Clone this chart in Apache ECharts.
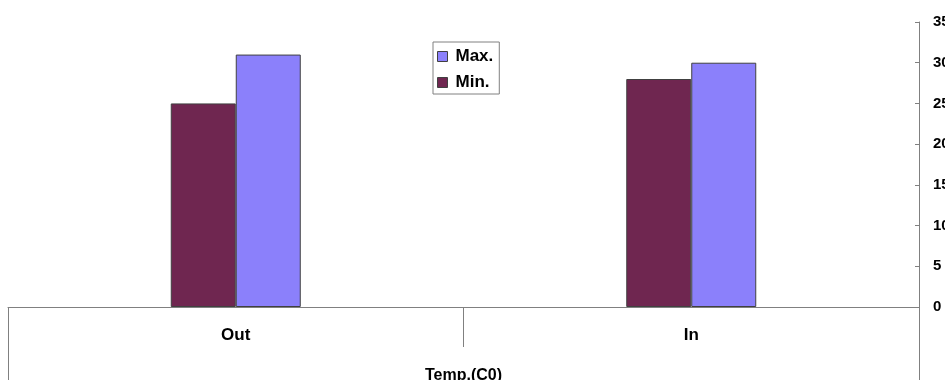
<!DOCTYPE html>
<html><head><meta charset="utf-8">
<script src="https://cdn.jsdelivr.net/npm/echarts@6/dist/echarts.min.js"></script>
<style>html,body{margin:0;padding:0;background:#fff}#c{width:945px;height:380px}</style>
</head><body><div id="c"></div>
<script>
const categories = ['Out', 'In'];
const outerCategory = ['Temp.(C0)'];
const minValues = [25, 28];
const maxValues = [31, 30];
const yTicks = { min: 0, max: 35, interval: 5 };

const font = 'Liberation Sans, Arial, sans-serif';
const chart = echarts.init(document.getElementById('c'));
chart.setOption({
  animation: false,
  grid: { left: 8, right: 26, top: 22, bottom: 73, containLabel: false, outerBoundsMode: 'none' },
  legend: {
    orient: 'vertical', left: 433, top: 42,
    data: ['Max.', 'Min.'],
    padding: [6, 6, 3, 4],
    itemWidth: 10, itemHeight: 10, itemGap: 9,
    borderColor: '#808080', borderWidth: 1,
    icon: 'rect',
    itemStyle: { borderColor: '#404040', borderWidth: 1 },
    textStyle: { fontFamily: font, fontWeight: 'bold', fontSize: 17, color: '#000', padding: [0, 0, 0, 3] }
  },
  xAxis: [
    {
      type: 'category', data: categories, position: 'bottom',
      axisLine: { show: true, lineStyle: { color: '#808080', width: 1 } },
      axisTick: { show: true, length: 40, lineStyle: { color: '#808080' } },
      axisLabel: { margin: 20, fontFamily: font, fontWeight: 'bold', fontSize: 17, color: '#000' }
    },
    {
      type: 'category', data: outerCategory, position: 'bottom',
      axisLine: { show: false },
      axisTick: { show: true, length: 73, lineStyle: { color: '#808080' } },
      axisLabel: { margin: 61, fontFamily: font, fontWeight: 'bold', fontSize: 16, color: '#000' }
    }
  ],
  yAxis: {
    type: 'value', position: 'right', min: yTicks.min, max: yTicks.max, interval: yTicks.interval,
    splitLine: { show: false },
    axisLine: { show: true, lineStyle: { color: '#808080', width: 1 } },
    axisTick: { show: true, inside: true, length: 4, lineStyle: { color: '#808080' } },
    axisLabel: { margin: 14, fontFamily: font, fontWeight: 'bold', fontSize: 15, color: '#000' }
  },
  series: [
    { name: 'Min.', type: 'bar', data: minValues, barWidth: 65, barGap: '0%',
      itemStyle: { color: '#6f2650', borderColor: '#404040', borderWidth: 1 } },
    { name: 'Max.', type: 'bar', data: maxValues, barWidth: 65, barGap: '0%',
      itemStyle: { color: '#8b80fb', borderColor: '#404040', borderWidth: 1 } }
  ]
});
</script></body></html>
